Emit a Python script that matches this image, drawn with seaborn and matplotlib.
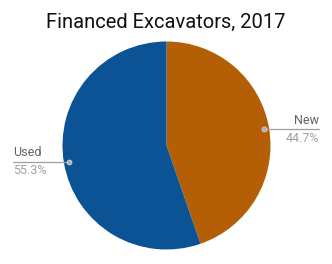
import numpy as np
import matplotlib
matplotlib.use("Agg")
import matplotlib.pyplot as plt
import seaborn as sns

categories = ["New", "Used"]
shares = [44.7, 55.3]
colors = ["#B45F06", "#0B5394"]

sns.set_theme(style="white")
plt.rcParams['font.family'] = ['Roboto', 'DejaVu Sans']

W, H = 332, 264
fig = plt.figure(figsize=(W / 100, H / 100), dpi=100)
cx, cy, R = 166.5, 264 - 145.5, 104.0
ax = fig.add_axes([(cx - R) / W, (cy - R) / H, 2 * R / W, 2 * R / H])
ax.axis('off')

wedges, _ = ax.pie(shares, colors=colors, startangle=90, counterclock=False,
                   radius=1, wedgeprops=dict(linewidth=0))
ax.set_xlim(-1, 1)
ax.set_ylim(-1, 1)

line_end = {"New": (319 - cx) / R, "Used": (13 - cx) / R}
for w, name, val in zip(wedges, categories, shares):
    ang = np.deg2rad((w.theta1 + w.theta2) / 2)
    dx, dy = 0.95 * np.cos(ang), 0.95 * np.sin(ang)
    xe = line_end[name]
    ax.plot([dx, xe], [dy, dy], color="#9e9e9e", lw=0.9, clip_on=False, zorder=3)
    ax.plot([dx], [dy], marker="o", ms=3.5, color="#b0b0b0", mec="#d8d8d8", mew=0.6,
            clip_on=False, zorder=4)
    ha = "right" if xe > 0 else "left"
    ax.text(xe, dy + 0.025, name, ha=ha, va="bottom", fontsize=9, color="#616161")
    ax.text(xe, dy - 0.025, f"{val}%", ha=ha, va="top", fontsize=9, color="#9e9e9e")

fig.text(165.5 / W, 1 - 22 / H, "Financed Excavators, 2017", ha="center", va="center",
         fontsize=14.5, color="#111111")

fig.savefig("out.png", dpi=100)
